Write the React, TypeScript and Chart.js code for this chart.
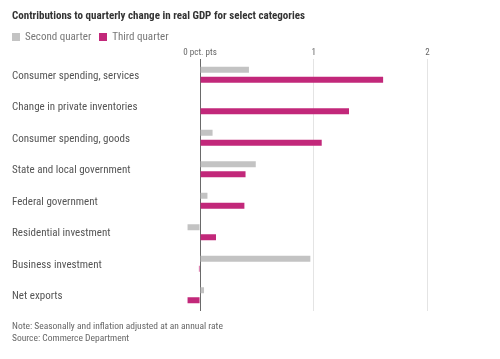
import React, { useEffect, useRef } from "react";
import { Chart, registerables } from "chart.js";

Chart.register(...registerables);

const categories = [
  "Consumer spending, services",
  "Change in private inventories",
  "Consumer spending, goods",
  "State and local government",
  "Federal government",
  "Residential investment",
  "Business investment",
  "Net exports",
];
const secondQuarter = [0.43, 0.0, 0.11, 0.49, 0.065, -0.11, 0.97, 0.035];
const thirdQuarter = [1.61, 1.31, 1.07, 0.4, 0.39, 0.14, -0.01, -0.11];
const tickValues = [0, 1, 2];

const GRAY = "#c3c3c3";
const PINK = "#c2287a";
const FONT = "'Roboto Condensed', Roboto, sans-serif";

export default function App() {
  const ref = useRef<HTMLCanvasElement | null>(null);
  useEffect(() => {
    if (!ref.current) return;
    const chart = new Chart(ref.current, {
      type: "bar",
      data: {
        labels: categories,
        datasets: [
          { label: "Second quarter", data: secondQuarter, backgroundColor: GRAY, categoryPercentage: 0.635, barPercentage: 0.6 },
          { label: "Third quarter", data: thirdQuarter, backgroundColor: PINK, categoryPercentage: 0.635, barPercentage: 0.6 },
        ],
      },
      options: {
        indexAxis: "y",
        animation: false,
        responsive: false,
        layout: { padding: { left: 12, top: 43, right: 10, bottom: 48 } },
        plugins: { legend: { display: false }, tooltip: { enabled: false } },
        scales: {
          x: {
            position: "top",
            min: -0.15,
            max: 2.55,
            afterBuildTicks: (s: any) => {
              s.ticks = tickValues.map((v) => ({ value: v }));
            },
            afterFit: (s: any) => {
              s.height = 16;
            },
            border: { display: false },
            grid: {
              drawTicks: false,
              color: (c: any) => (c.tick && c.tick.value === 0 ? "#6a6a6a" : "#e4e4e4"),
              lineWidth: 1,
            },
            ticks: {
              padding: 1,
              color: "#666",
              font: { family: FONT, size: 9 },
              callback: (v: any) => (v === 0 ? "0 pct. pts" : String(v)),
            },
          },
          y: {
            afterFit: (s: any) => {
              s.width = 171;
            },
            border: { display: false },
            grid: { display: false, drawTicks: false },
            ticks: {
              crossAlign: "far",
              labelOffset: 1,
              color: "#555",
              font: { family: FONT, size: 11 },
            },
          },
        },
      },
    });
    return () => chart.destroy();
  }, []);

  return (
    <div style={{ position: "relative", width: 500, height: 359, margin: -8, fontFamily: FONT, background: "#fff" }}>
      <canvas ref={ref} width={500} height={359} style={{ position: "absolute", left: 0, top: 0 }} />
      <div style={{ position: "absolute", left: 12, top: 9, fontSize: 11, fontWeight: 700, color: "#333", whiteSpace: "nowrap" }}>
        Contributions to quarterly change in real GDP for select categories
      </div>
      <div style={{ position: "absolute", left: 12, top: 30, fontSize: 11, color: "#777", display: "flex", alignItems: "center", whiteSpace: "nowrap" }}>
        <span style={{ display: "inline-block", width: 8, height: 8, background: GRAY, marginRight: 5 }} />
        <span style={{ marginRight: 8 }}>Second quarter</span>
        <span style={{ display: "inline-block", width: 8, height: 8, background: PINK, marginRight: 5 }} />
        <span>Third quarter</span>
      </div>
      <div style={{ position: "absolute", left: 12, top: 320, fontSize: 9.5, color: "#666", lineHeight: "12px", whiteSpace: "nowrap" }}>
        <div>Note: Seasonally and inflation adjusted at an annual rate</div>
        <div>Source: Commerce Department</div>
      </div>
    </div>
  );
}
